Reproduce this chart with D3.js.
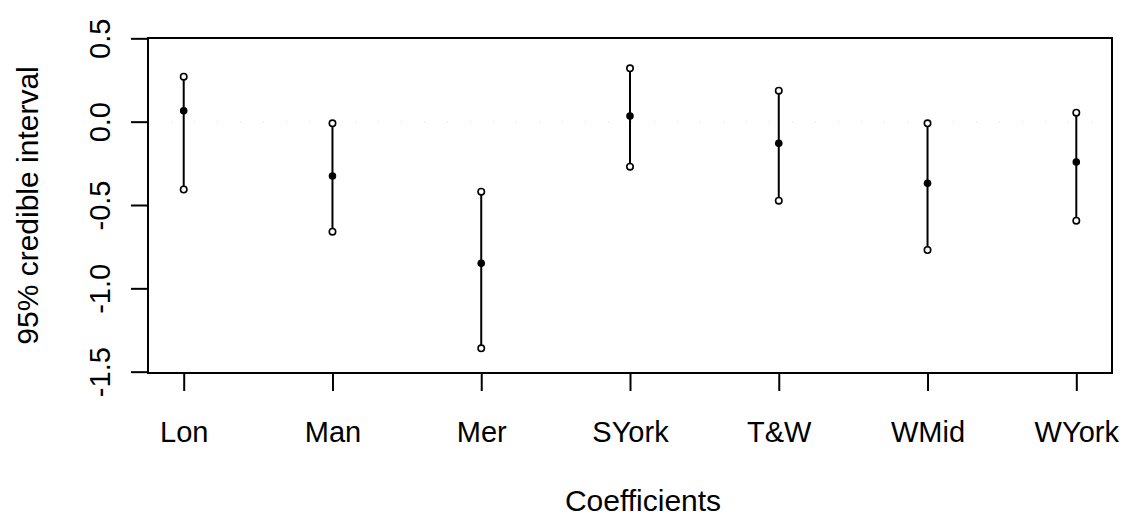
<!DOCTYPE html>
<html>
<head>
<meta charset="utf-8">
<script src="https://cdn.jsdelivr.net/npm/d3@7"></script>
<style>
  html, body { margin: 0; padding: 0; background: #fff; }
  svg text { font-family: "Liberation Sans", Arial, sans-serif; fill: #000; }
</style>
</head>
<body>
<svg id="chart" width="1147" height="518"></svg>
<script>
const categories = ["Lon", "Man", "Mer", "SYork", "T&W", "WMid", "WYork"];
const upper = [0.27, -0.01, -0.42, 0.32, 0.186, -0.01, 0.054];
const mean  = [0.065, -0.326, -0.85, 0.034, -0.13, -0.37, -0.242];
const lower = [-0.407, -0.66, -1.36, -0.27, -0.474, -0.77, -0.594];
const yTicks = [-1.5, -1.0, -0.5, 0.0, 0.5];
const xTitle = "Coefficients";
const yTitle = "95% credible interval";

const svg = d3.select("#chart");
const box = { left: 148, right: 1112, top: 38, bottom: 373 };

const x = d3.scaleLinear().domain([0.76, 7.24]).range([box.left, box.right]);
const y = d3.scaleLinear().domain([-1.508, 0.502]).range([box.bottom, box.top]);

// faint dotted reference at zero
svg.append("line")
  .attr("x1", box.left).attr("x2", box.right)
  .attr("y1", y(0)).attr("y2", y(0))
  .attr("stroke", "#d8d8d8").attr("stroke-width", 1)
  .attr("stroke-dasharray", "1,22");

// x axis
const xAxis = svg.append("g")
  .attr("transform", `translate(0,${box.bottom})`)
  .call(d3.axisBottom(x)
    .tickValues(d3.range(1, categories.length + 1))
    .tickFormat(d => categories[d - 1])
    .tickSize(18).tickSizeOuter(0));
xAxis.select(".domain").remove();
xAxis.selectAll(".tick line").attr("stroke", "#000").attr("stroke-width", 2);
xAxis.selectAll(".tick text")
  .attr("y", 69).attr("dy", 0)
  .style("font-size", "29px");

// y axis
const yAxis = svg.append("g")
  .attr("transform", `translate(${box.left},0)`)
  .call(d3.axisLeft(y)
    .tickValues(yTicks)
    .tickFormat(d => d.toFixed(1))
    .tickSize(17).tickSizeOuter(0));
yAxis.select(".domain").remove();
yAxis.selectAll(".tick line").attr("stroke", "#000").attr("stroke-width", 2);
yAxis.selectAll(".tick text")
  .attr("x", null).attr("dy", 0)
  .attr("text-anchor", "middle")
  .attr("transform", "translate(-38,0) rotate(-90)")
  .style("font-size", "29px");

// plot box
svg.append("rect")
  .attr("x", box.left).attr("y", box.top)
  .attr("width", box.right - box.left).attr("height", box.bottom - box.top)
  .attr("fill", "none").attr("stroke", "#000").attr("stroke-width", 2);

// intervals
const rows = categories.map((c, i) => ({ i: i + 1, lo: lower[i], m: mean[i], hi: upper[i] }));
const g = svg.append("g");
g.selectAll("line.ci").data(rows).join("line")
  .attr("class", "ci")
  .attr("x1", d => x(d.i)).attr("x2", d => x(d.i))
  .attr("y1", d => y(d.lo)).attr("y2", d => y(d.hi))
  .attr("stroke", "#000").attr("stroke-width", 2);
g.selectAll("circle.hi").data(rows).join("circle")
  .attr("class", "hi")
  .attr("cx", d => x(d.i)).attr("cy", d => y(d.hi)).attr("r", 3.2)
  .attr("fill", "#fff").attr("stroke", "#000").attr("stroke-width", 1.6);
g.selectAll("circle.lo").data(rows).join("circle")
  .attr("class", "lo")
  .attr("cx", d => x(d.i)).attr("cy", d => y(d.lo)).attr("r", 3.2)
  .attr("fill", "#fff").attr("stroke", "#000").attr("stroke-width", 1.6);
g.selectAll("circle.m").data(rows).join("circle")
  .attr("class", "m")
  .attr("cx", d => x(d.i)).attr("cy", d => y(d.m)).attr("r", 3.8)
  .attr("fill", "#000");

// titles
svg.append("text")
  .attr("x", 643).attr("y", 511)
  .attr("text-anchor", "middle")
  .style("font-size", "30px")
  .text(xTitle);
svg.append("text")
  .attr("transform", `translate(38,${(box.top + box.bottom) / 2}) rotate(-90)`)
  .attr("text-anchor", "middle")
  .style("font-size", "30px")
  .text(yTitle);
</script>
</body>
</html>
